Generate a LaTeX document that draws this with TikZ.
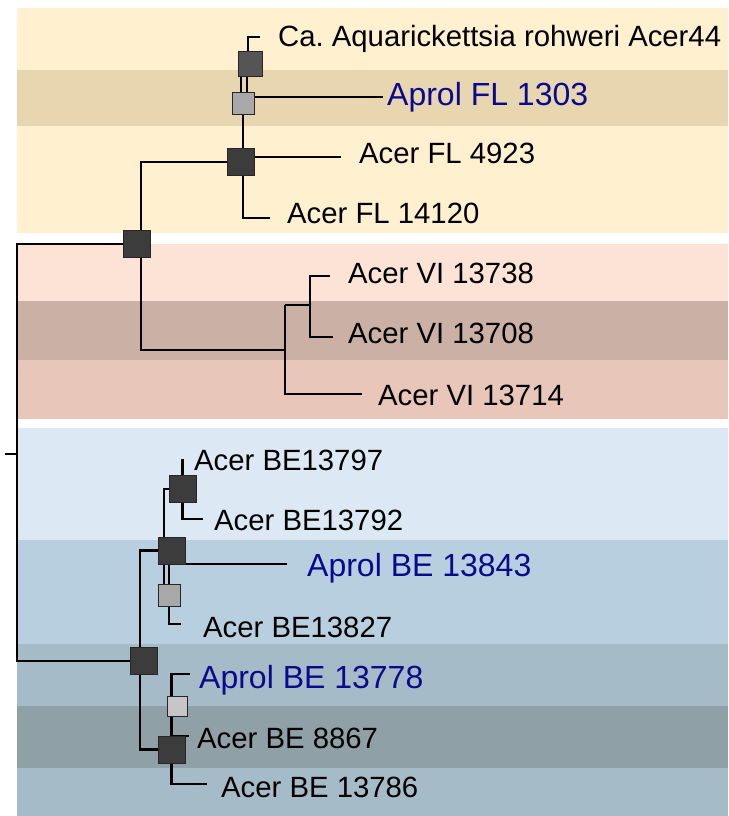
\documentclass[tikz,border=0pt]{standalone}
\usepackage{fontspec}
\setmainfont{Liberation Sans}
\usetikzlibrary{calc}
\pgfdeclarelayer{bands}
\pgfdeclarelayer{lines}
\pgfsetlayers{bands,lines,main}
\definecolor{yelA}{HTML}{FFF0CF}
\definecolor{yelB}{HTML}{E8D6B0}
\definecolor{pkA}{HTML}{FDE3D6}
\definecolor{pkB}{HTML}{CBB0A5}
\definecolor{pkC}{HTML}{E8C6B9}
\definecolor{blA}{HTML}{DCE9F4}
\definecolor{blB}{HTML}{B8CFDF}
\definecolor{blC}{HTML}{A6BBC8}
\definecolor{blD}{HTML}{8FA0A7}
\definecolor{boxdark}{HTML}{3C3C3C}
\definecolor{boxmid}{HTML}{555555}
\definecolor{boxgray}{HTML}{A8A8A8}
\definecolor{boxlight}{HTML}{C6C6C6}
\definecolor{aprolblue}{HTML}{0A0A8C}
\begin{document}
\begin{tikzpicture}[x=1pt,y=-1pt,
  br/.style={line width=2.2pt, black, line cap=butt},
  bx/.style={draw=black!85, line width=1pt, inner sep=0pt, minimum size=27pt, fill=boxdark},
  lab/.style={anchor=base west, inner sep=0pt, font=\fontsize{29.3}{31}\selectfont},
  aprol/.style={anchor=base west, inner sep=0pt, font=\fontsize{32}{34}\selectfont, text=aprolblue}]
\useasboundingbox (0,0) rectangle (728,816);
% bands
\begin{pgfonlayer}{bands}
\fill[yelA] (17,8) rectangle (728,233);
\fill[yelB] (17,70) rectangle (728,126);
\fill[pkA] (17,244) rectangle (728,301);
\fill[pkB] (17,301) rectangle (728,360);
\fill[pkC] (17,360) rectangle (728,419);
\fill[blA] (17,428) rectangle (728,540);
\fill[blB] (17,540) rectangle (728,644);
\fill[blC] (17,644) rectangle (728,706);
\fill[blD] (17,706) rectangle (728,768);
\fill[blC] (17,768) rectangle (728,816);
\end{pgfonlayer}
% boxes
\node[bx] (root1) at (137,244) {};
\node[bx] (fl) at (241,162) {};
\node[bx, minimum size=24pt, fill=boxmid] (aq) at (250,64) {};
\node[bx, minimum size=22pt, fill=boxgray] (apfl) at (243,103.5) {};
\node[bx] (be0) at (143.5,661) {};
\node[bx] (be2) at (171.5,550.5) {};
\node[bx] (be1) at (182.5,489) {};
\node[bx, minimum size=22pt, fill=boxgray] (be3) at (169,595.5) {};
\node[bx] (be5) at (171.5,749.5) {};
\node[bx, minimum size=20pt, fill=boxlight] (be4) at (177,706) {};
% coordinates
\coordinate (rt) at (17,244);
\coordinate (rb) at (17,661);
\coordinate (tkr) at (17,454);
\coordinate (tkl) at (5,454);
\coordinate (eaq) at (260,37);
\coordinate (e1303) at (383,97);
\coordinate (e4923) at (341,157);
\coordinate (e14120) at (270,218);
\coordinate (vi0) at (285,350);
\coordinate (vi1) at (310,305);
\coordinate (e13738) at (330,276);
\coordinate (e13708) at (333,337);
\coordinate (e13714) at (362,394);
\coordinate (t13797) at (182.5,459);
\coordinate (e13792) at (203,519);
\coordinate (e13843) at (287,564);
\coordinate (e13827) at (181,624);
\coordinate (e13778) at (190,674);
\coordinate (e8867) at (189,736);
\coordinate (e13786) at (207,784);
% branches
\begin{pgfonlayer}{lines}
\draw[br] (root1.center) -- (rt) -- (rb) -- (be0.center);
\draw[br] (tkl) -- (tkr);
\draw[br] ($(root1.center)+(4,0)$) |- (fl.center);
\draw[br] (fl.center |- e4923) -- (e4923);
\draw[br] ($(fl.center)+(2,0)$) |- (e14120);
\draw[br] ($(fl.center)+(2,0)$) -- (apfl.center);
\draw[br] (apfl.center |- e1303) -- (e1303);
\draw[br] ($(apfl.center)+(-2,0)$) -- ($(aq.center)+(-9,0)$);
\draw[br] ($(apfl.center)+(4,0)$) -- ($(aq.center)+(-3,0)$);
\draw[br] ($(aq.center)+(-2,0)$) |- (eaq);
\draw[br] ($(root1.center)+(4,0)$) |- (vi0);
\draw[br] (vi1 -| vi0) |- (e13714);
\draw[br] (vi1 -| vi0) -- (vi1);
\draw[br] (e13738) -| (vi1) |- (e13708);
\draw[br] ($(be0.center)+(-3.5,0)$) |- (be2.center);
\draw[br] ($(be0.center)+(-3.5,0)$) |- (be5.center);
\draw[br] (be2.center |- e13843) -- (e13843);
\draw[br] ($(be2.center)+(-7.5,0)$) |- (be1.center);
\draw[br] (be1.center) -- (t13797);
\draw[br] (be1.center) |- (e13792);
\draw[br] ($(be2.center)+(-7.5,0)$) -- ($(be3.center)+(-5,0)$);
\draw[br] ($(be2.center)+(-2.5,0)$) -- (be3.center);
\draw[br] (be3.center) |- (e13827);
\draw[br] (be5.center) |- (e13778);
\draw[br] (be5.center |- e8867) -- (e8867);
\draw[br] (be5.center) |- (e13786);
\end{pgfonlayer}
% labels
\node[lab] (laq) at (278,47) {Ca.\ Aquarickettsia rohweri Acer44};
\node[aprol] (l1303) at (387,105) {Aprol FL 1303};
\node[lab] (l4923) at (359,163) {Acer FL 4923};
\node[lab] (l14120) at (287,223) {Acer FL 14120};
\node[lab] (l13738) at (348,283) {Acer VI 13738};
\node[lab] (l13708) at (348,343) {Acer VI 13708};
\node[lab] (l13714) at (378,405) {Acer VI 13714};
\node[lab] (l13797) at (194,470) {Acer BE13797};
\node[lab] (l13792) at (214,530) {Acer BE13792};
\node[aprol] (l13843) at (307,576) {Aprol BE 13843};
\node[lab] (l13827) at (203,637) {Acer BE13827};
\node[aprol] (l13778) at (199,688) {Aprol BE 13778};
\node[lab] (l8867) at (197,748) {Acer BE 8867};
\node[lab] (l13786) at (221,797) {Acer BE 13786};
\end{tikzpicture}
\end{document}
